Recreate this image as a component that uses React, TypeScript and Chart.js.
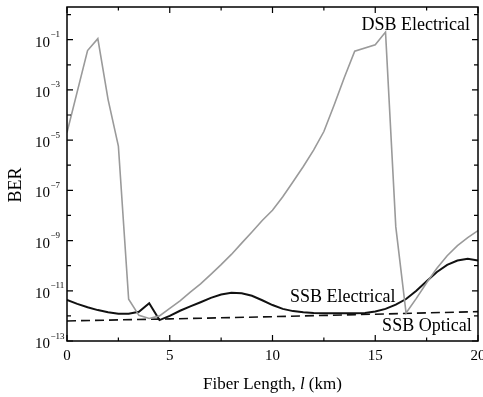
import React, { useEffect, useRef } from "react";
import { Chart, registerables } from "chart.js";

Chart.register(...registerables);

// ---- data ----
const ssbKm = [
  0, 0.5, 1, 1.5, 2, 2.5, 3, 3.5, 4, 4.5, 5, 5.5, 6, 6.5, 7, 7.5, 8, 8.5, 9, 9.5,
  10, 10.5, 11, 11.5, 12, 12.5, 13, 13.5, 14, 14.5, 15, 15.5, 16, 16.5, 17, 17.5,
  18, 18.5, 19, 19.5, 20,
];
const ssbElectricalBer = [
  4.3e-12, 3.0e-12, 2.2e-12, 1.7e-12, 1.4e-12, 1.23e-12, 1.23e-12, 1.45e-12, 3.2e-12,
  6.8e-13, 1.0e-12, 1.6e-12, 2.4e-12, 3.5e-12, 5.2e-12, 7.1e-12, 8.3e-12, 7.9e-12,
  6.3e-12, 4.2e-12, 2.7e-12, 1.9e-12, 1.55e-12, 1.4e-12, 1.3e-12, 1.26e-12, 1.26e-12,
  1.26e-12, 1.26e-12, 1.3e-12, 1.5e-12, 1.9e-12, 2.8e-12, 4.7e-12, 1.0e-11, 2.4e-11,
  5.6e-11, 1.07e-10, 1.6e-10, 1.9e-10, 1.6e-10,
];
const dsbKm = [
  0, 1, 1.5, 2, 2.5, 3, 3.5, 4, 4.5, 5, 5.5, 6, 6.5, 7, 7.5, 8, 8.5, 9, 9.5, 10,
  10.5, 11, 11.5, 12, 12.5, 13, 13.5, 14, 15, 15.5, 16, 16.5, 17, 17.5, 18, 18.5,
  19, 19.5, 20,
];
const dsbElectricalBer = [
  2.0e-5, 3.7e-2, 1.1e-1, 4.1e-4, 5.8e-6, 4.6e-12, 1.05e-12, 7.9e-13, 1.0e-12,
  2.0e-12, 4.0e-12, 8.9e-12, 1.9e-11, 4.5e-11, 1.1e-10, 2.8e-10, 7.9e-10, 2.2e-9,
  6.3e-9, 1.6e-8, 5.6e-8, 2.2e-7, 8.9e-7, 4.0e-6, 2.2e-5, 2.5e-4, 3.2e-3, 3.5e-2,
  6.3e-2, 2.0e-1, 3.5e-9, 1.3e-12, 5.0e-12, 2.1e-11, 7.9e-11, 2.5e-10, 6.3e-10,
  1.3e-9, 2.5e-9,
];
const opticalKm = [0, 5, 10, 15, 20];
const ssbOpticalBer = [6.3e-13, 7.6e-13, 9.3e-13, 1.17e-12, 1.48e-12];

const xTickValues = [0, 5, 10, 15, 20];
const xTickLabels = ["0", "5", "10", "15", "20"];
const xMinorTickValues = [2.5, 7.5, 12.5, 17.5];
const yTickExponents = [-13, -12, -11, -10, -9, -8, -7, -6, -5, -4, -3, -2, -1, 0];
const yLabelExponents = [-13, -11, -9, -7, -5, -3, -1];

const SERIF = "'Liberation Serif', 'Times New Roman', serif";

const decorPlugin = {
  id: "decor",
  afterDatasetsDraw(chart: any) {
    const ctx = chart.ctx as CanvasRenderingContext2D;
    const a = chart.chartArea;
    const xs = chart.scales.x;
    const ys = chart.scales.y;
    ctx.save();
    ctx.strokeStyle = "#000";
    ctx.fillStyle = "#000";
    ctx.lineWidth = 1.5;
    ctx.strokeRect(a.left, a.top, a.right - a.left, a.bottom - a.top);

    ctx.lineWidth = 1.2;
    const vtick = (v: number, len: number) => {
      const px = xs.getPixelForValue(v);
      ctx.beginPath();
      ctx.moveTo(px, a.bottom);
      ctx.lineTo(px, a.bottom - len);
      ctx.moveTo(px, a.top);
      ctx.lineTo(px, a.top + len);
      ctx.stroke();
    };
    xTickValues.forEach((v) => vtick(v, 6));
    xMinorTickValues.forEach((v) => vtick(v, 3.5));
    yTickExponents.forEach((e) => {
      const py = ys.getPixelForValue(Math.pow(10, e));
      const len = yLabelExponents.includes(e) ? 6 : 4;
      ctx.beginPath();
      ctx.moveTo(a.left, py);
      ctx.lineTo(a.left + len, py);
      ctx.moveTo(a.right, py);
      ctx.lineTo(a.right - len, py);
      ctx.stroke();
    });

    // x tick labels
    ctx.font = `15px ${SERIF}`;
    ctx.textAlign = "center";
    ctx.textBaseline = "alphabetic";
    xTickValues.forEach((v, i) => {
      ctx.fillText(xTickLabels[i], xs.getPixelForValue(v), a.bottom + 19);
    });

    // y tick labels with superscripts
    yLabelExponents.forEach((e) => {
      const py = ys.getPixelForValue(Math.pow(10, e));
      ctx.textAlign = "left";
      ctx.font = `15px ${SERIF}`;
      const lx = 35;
      ctx.fillText("10", lx, py + 7);
      const w = ctx.measureText("10").width;
      ctx.font = `9px ${SERIF}`;
      ctx.fillText("\u2212" + String(Math.abs(e)), lx + w + 0.5, py - 2.5);
    });

    // axis titles
    ctx.font = `18px ${SERIF}`;
    ctx.save();
    ctx.translate(16, 185);
    ctx.rotate(-Math.PI / 2);
    ctx.textAlign = "center";
    ctx.textBaseline = "middle";
    ctx.fillText("BER", 0, 0);
    ctx.restore();

    const parts = [
      { t: "Fiber Length, ", f: `17px ${SERIF}` },
      { t: "l", f: `italic 17px ${SERIF}` },
      { t: " (km)", f: `17px ${SERIF}` },
    ];
    let total = 0;
    parts.forEach((p) => {
      ctx.font = p.f;
      total += ctx.measureText(p.t).width;
    });
    let cx = (a.left + a.right) / 2 - total / 2;
    ctx.textAlign = "left";
    parts.forEach((p) => {
      ctx.font = p.f;
      ctx.fillText(p.t, cx, 389);
      cx += ctx.measureText(p.t).width;
    });

    // curve annotations
    ctx.font = `18px ${SERIF}`;
    ctx.textAlign = "right";
    ctx.fillText("DSB Electrical", xs.getPixelForValue(19.61), ys.getPixelForValue(0.25));
    ctx.textAlign = "left";
    ctx.fillText("SSB Electrical", xs.getPixelForValue(10.85), ys.getPixelForValue(3.5e-12));
    ctx.textAlign = "right";
    ctx.fillText("SSB Optical", xs.getPixelForValue(19.69), ys.getPixelForValue(2.4e-13));
    ctx.restore();
  },
};

export default function App() {
  const ref = useRef<HTMLCanvasElement | null>(null);
  useEffect(() => {
    if (!ref.current) return;
    const chart = new Chart(ref.current, {
      type: "line",
      data: {
        datasets: [
          {
            label: "DSB Electrical",
            data: dsbKm.map((x, i) => ({ x, y: dsbElectricalBer[i] })),
            borderColor: "#9a9a9a",
            borderWidth: 1.6,
            pointRadius: 0,
            tension: 0,
          },
          {
            label: "SSB Electrical",
            data: ssbKm.map((x, i) => ({ x, y: ssbElectricalBer[i] })),
            borderColor: "#111",
            borderWidth: 2,
            pointRadius: 0,
            tension: 0,
          },
          {
            label: "SSB Optical",
            data: opticalKm.map((x, i) => ({ x, y: ssbOpticalBer[i] })),
            borderColor: "#111",
            borderWidth: 1.6,
            borderDash: [9, 5],
            pointRadius: 0,
            tension: 0,
          },
        ],
      },
      options: {
        responsive: false,
        animation: false,
        layout: { padding: { top: 7, right: 5, left: 0, bottom: 0 } },
        plugins: { legend: { display: false }, tooltip: { enabled: false } },
        scales: {
          x: {
            type: "linear",
            min: 0,
            max: 20,
            ticks: { display: false },
            grid: { display: false },
            border: { display: false },
            afterFit: (s: any) => {
              s.height = 56;
            },
          },
          y: {
            type: "logarithmic",
            min: 1e-13,
            max: 2,
            bounds: "data",
            ticks: { display: false },
            grid: { display: false },
            border: { display: false },
            afterFit: (s: any) => {
              s.width = 67;
            },
          },
        },
      },
      plugins: [decorPlugin],
    } as any);
    return () => chart.destroy();
  }, []);
  return (
    <div style={{ position: "fixed", left: 0, top: 0, width: 483, height: 397, background: "#fff" }}>
      <canvas ref={ref} width={483} height={397} style={{ display: "block" }} />
    </div>
  );
}
